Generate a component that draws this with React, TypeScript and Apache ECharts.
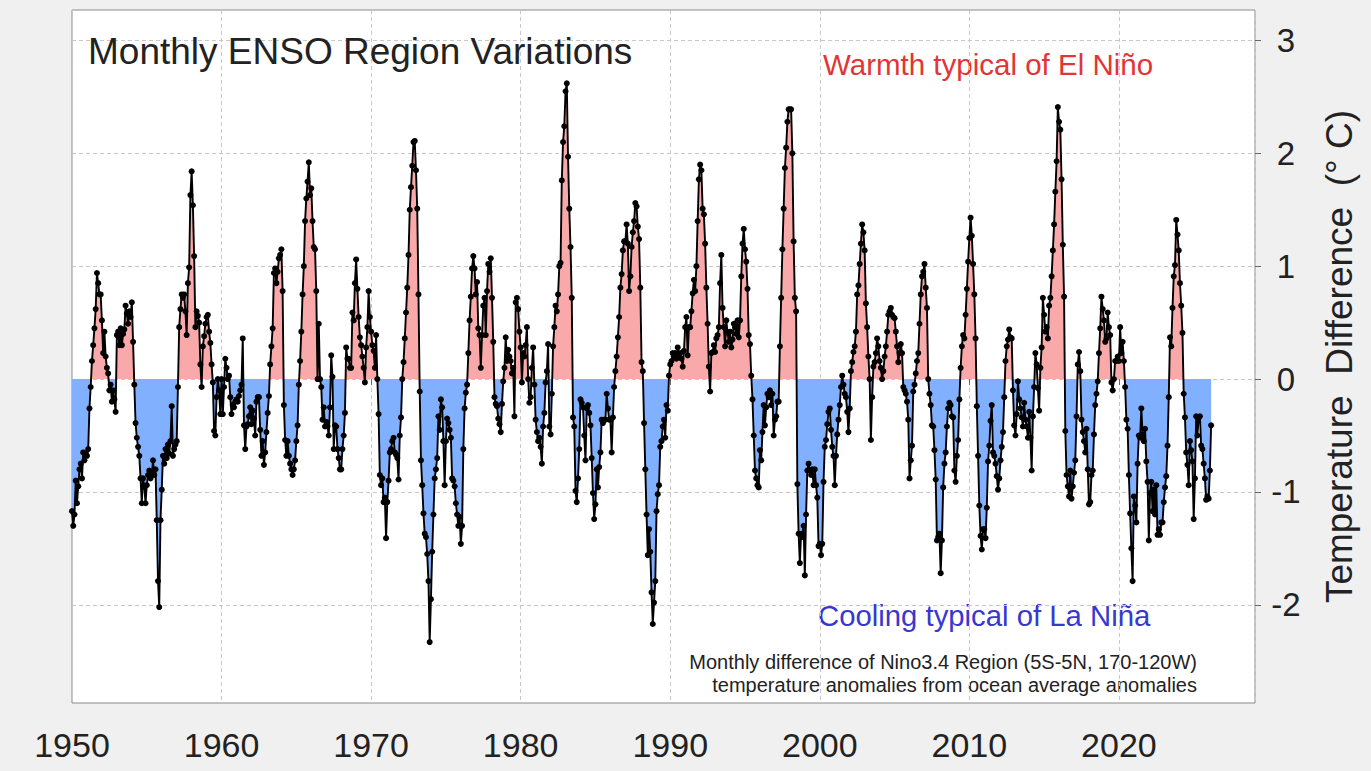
import React, { useEffect, useRef } from "react";
import * as echarts from "echarts";

const START_YEAR = 1950;

const enso1950s = [
  -1.17, -1.30, -1.20, -0.90, -1.10, -0.95, -0.80, -0.75, -0.88, -0.65, -0.72, -0.66,
  -0.68, -0.62, -0.26, -0.07, 0.16, 0.30, 0.45, 0.62, 0.94, 0.85, 0.75, 0.75,
  0.52, 0.23, 0.42, 0.20, 0.10, 0.05, -0.10, -0.05, -0.20, -0.10, -0.18, -0.29,
  0.39, 0.42, 0.30, 0.45, 0.30, 0.40, 0.44, 0.65, 0.58, 0.49, 0.60, 0.55,
  0.68, 0.33, -0.05, -0.39, -0.52, -0.60, -0.68, -0.88, -1.10, -0.88, -0.95, -1.10,
  -0.94, -0.85, -0.81, -0.88, -0.85, -0.72, -0.85, -0.80, -1.25, -1.79, -2.02, -1.25,
  -0.98, -0.68, -0.75, -0.62, -0.70, -0.58, -0.66, -0.55, -0.24, -0.68, -0.62, -0.58,
  -0.55, -0.07, 0.46, 0.62, 0.75, 0.72, 0.75, 0.60, 0.39, 0.85, 0.99, 1.63,
  1.84, 1.54, 1.09, 0.46, 0.60, 0.56, 0.50, 0.13, -0.07, 0.29, 0.38, 0.49,
  0.55, 0.57, 0.42, 0.32, 0.13, -0.03, -0.46, -0.50, -0.16, 0.00, -0.10, -0.31,
];

const enso1960s = [
  0.00, -0.31, -0.07, 0.18, 0.10, 0.00, 0.03, -0.16, -0.31, -0.23, -0.25, -0.20,
  -0.18, -0.20, -0.15, -0.10, -0.05, 0.36, -0.41, -0.62, -0.42, -0.40, -0.33, -0.25,
  -0.40, -0.28, -0.35, -0.50, -0.20, -0.16, -0.16, -0.45, -0.68, -0.55, -0.76, -0.65,
  -0.47, -0.30, -0.15, 0.13, 0.29, 0.45, 0.94, 0.98, 0.85, 0.95, 1.07, 1.10,
  1.15, 0.78, -0.23, -0.54, -0.68, -0.55, -0.68, -0.75, -0.80, -0.85, -0.80, -0.72,
  -0.55, -0.41, -0.05, 0.16, 0.42, 0.75, 1.00, 1.40, 1.60, 1.75, 1.92, 1.63,
  1.69, 1.40, 1.17, 1.15, 0.78, 0.00, 0.49, 0.00, -0.07, -0.36, -0.25, -0.42,
  -0.38, -0.42, -0.50, -0.25, 0.21, 0.02, -0.62, -0.41, -0.42, -0.62, -0.70, -0.80,
  -0.80, -0.62, -0.50, -0.30, 0.28, 0.18, 0.18, 0.10, 0.10, 0.59, 0.52, 0.85,
  1.06, 0.80, 0.55, 0.37, 0.30, 0.20, 0.10, -0.03, 0.28, 0.46, 0.78, 0.55,
];

const enso1970s = [
  0.42, 0.30, 0.25, 0.10, 0.39, 0.00, -0.31, -0.85, -0.94, -0.88, -1.09, -1.05,
  -1.41, -1.09, -0.90, -0.65, -0.62, -0.55, -0.52, -0.65, -0.67, -0.70, -0.89, -0.50,
  -0.34, 0.00, 0.15, 0.36, 0.59, 0.81, 1.10, 1.50, 1.70, 1.89, 2.10, 2.11,
  1.85, 1.51, 0.75, -0.11, -0.72, -0.94, -1.19, -1.37, -1.40, -1.55, -1.79, -2.33,
  -1.95, -1.53, -1.20, -0.88, -0.80, -0.70, -0.33, -0.45, -0.18, -0.25, -0.55, -0.94,
  -0.55, -0.35, -0.39, -0.45, -0.52, -0.88, -0.90, -0.95, -1.10, -1.20, -1.30, -1.22,
  -1.46, -1.30, -0.62, -0.26, -0.12, -0.05, 0.23, 0.52, 0.73, 0.98, 1.09, 0.98,
  0.75, 0.86, 0.45, 0.39, 0.10, 0.39, 0.65, 0.72, 0.39, 0.78, 1.02, 0.95,
  1.07, 0.72, 0.33, -0.16, -0.22, -0.24, -0.35, -0.40, -0.47, -0.22, -0.02, 0.10,
  0.37, 0.16, 0.26, 0.20, 0.16, 0.05, 0.10, -0.33, 0.68, 0.72, 0.62, 0.42,
];

const enso1980s = [
  0.28, -0.03, 0.23, 0.20, 0.30, 0.46, 0.00, -0.21, -0.16, 0.10, 0.28, -0.05,
  -0.36, -0.47, -0.55, -0.52, -0.60, -0.75, -0.42, -0.30, -0.03, 0.07, 0.31, -0.42,
  -0.49, -0.13, 0.29, 0.46, 0.65, 0.60, 0.75, 1.00, 1.03, 1.76, 2.10, 2.24,
  2.55, 2.62, 1.97, 1.51, 1.17, 0.72, -0.34, -0.42, -0.99, -1.09, -0.88, -0.62,
  -0.18, -0.21, -0.25, -0.50, -0.72, -0.26, -0.23, -0.30, -0.41, -0.70, -1.01, -1.24,
  -1.11, -0.80, -0.96, -0.78, -0.65, -0.36, -0.39, -0.36, -0.36, -0.13, -0.26, -0.36,
  -0.36, -0.65, -0.34, -0.07, 0.07, 0.20, 0.37, 0.55, 0.81, 0.93, 1.14, 1.22,
  1.22, 1.37, 1.20, 0.78, 0.91, 1.17, 1.30, 1.40, 1.56, 1.53, 1.35, 1.24,
  0.81, 0.15, 0.07, -0.39, -0.80, -1.20, -1.56, -1.33, -1.53, -1.89, -2.17, -1.98,
  -1.79, -1.17, -1.02, -0.94, -0.60, -0.55, -0.42, -0.36, -0.52, -0.23, -0.28, 0.03,
];

const enso1990s = [
  0.13, 0.16, 0.23, 0.20, 0.23, 0.18, 0.28, 0.20, 0.23, 0.18, 0.11, 0.25,
  0.46, 0.55, 0.21, 0.46, 0.46, 0.60, 0.76, 0.88, 0.78, 1.00, 1.40, 1.77,
  1.90, 1.85, 1.51, 1.46, 1.20, 0.81, 0.49, 0.11, -0.11, 0.23, 0.24, 0.30,
  0.24, 0.36, 0.39, 0.46, 0.85, 1.10, 0.63, 0.46, 0.29, 0.52, 0.41, 0.33,
  0.42, 0.28, 0.35, 0.49, 0.46, 0.40, 0.52, 0.37, 0.52, 0.91, 1.20, 1.33,
  1.15, 1.04, 0.80, 0.39, 0.31, 0.03, -0.18, -0.50, -0.81, -0.88, -0.94, -0.96,
  -0.63, -0.72, -0.47, -0.23, -0.41, -0.25, -0.13, -0.16, -0.10, -0.23, -0.13, -0.50,
  -0.36, -0.33, -0.20, -0.20, 0.29, 0.72, 1.15, 1.51, 1.87, 2.05, 2.28, 2.39,
  2.39, 2.39, 2.00, 1.22, 0.72, 0.60, -0.93, -1.37, -1.63, -1.37, -1.40, -1.30,
  -1.74, -1.20, -0.81, -0.75, -0.81, -0.85, -0.80, -0.94, -0.80, -0.94, -1.05, -1.48,
];

const enso2000s = [
  -1.46, -1.56, -1.46, -0.91, -0.60, -0.54, -0.40, -0.29, -0.26, -0.45, -0.60, -0.68,
  -0.94, -0.68, -0.49, -0.36, -0.23, -0.07, 0.03, -0.05, -0.13, -0.16, -0.29, -0.47,
  -0.26, 0.07, 0.15, 0.24, 0.29, 0.42, 0.75, 0.83, 1.02, 1.20, 1.37, 1.30,
  1.14, 0.67, 0.46, 0.20, 0.00, -0.54, -0.16, 0.11, 0.15, 0.23, 0.36, 0.29,
  0.16, 0.10, 0.00, 0.07, 0.20, 0.29, 0.42, 0.57, 0.60, 0.63, 0.57, 0.55,
  0.54, 0.42, 0.29, 0.15, 0.23, 0.31, 0.23, -0.07, -0.10, -0.13, -0.20, -0.36,
  -0.88, -0.72, -0.59, -0.11, -0.05, 0.05, 0.16, 0.23, 0.49, 0.75, 0.91, 0.95,
  1.02, 0.81, 0.63, 0.00, -0.13, -0.23, -0.41, -0.42, -0.63, -0.89, -1.43, -1.40,
  -1.37, -1.72, -1.43, -0.96, -0.75, -0.65, -0.42, -0.26, -0.21, -0.23, -0.33, -0.34,
  -0.81, -0.91, -0.68, -0.54, -0.18, 0.10, 0.29, 0.39, 0.36, 0.57, 0.80, 1.04,
];

const enso2010s = [
  1.25, 1.43, 1.27, 1.02, 0.75, 0.36, -0.24, -0.68, -1.12, -1.39, -1.51, -1.33,
  -1.33, -1.41, -1.14, -0.73, -0.59, -0.37, -0.23, -0.65, -0.68, -0.75, -0.86, -0.98,
  -0.88, -0.72, -0.60, -0.47, -0.16, 0.16, 0.29, 0.35, 0.44, 0.37, 0.36, -0.10,
  -0.41, -0.50, -0.31, -0.02, -0.18, -0.26, -0.34, -0.42, -0.21, -0.36, -0.42, -0.52,
  -0.29, -0.52, -0.81, -0.33, -0.07, 0.23, 0.13, -0.08, -0.28, 0.10, 0.28, 0.72,
  0.57, 0.42, 0.46, 0.36, 0.65, 0.72, 0.91, 1.14, 1.37, 1.66, 1.93, 2.41,
  2.28, 2.21, 1.77, 1.19, 0.73, -0.46, -0.85, -0.95, -1.04, -0.81, -1.06, -0.95,
  -0.83, -0.72, -0.33, 0.13, 0.24, 0.07, -0.36, -0.47, -0.55, -0.65, -0.44, -0.80,
  -1.11, -1.09, -0.85, -0.81, -0.49, -0.23, -0.13, -0.02, 0.23, 0.45, 0.73, 0.62,
  0.52, 0.33, 0.36, 0.59, 0.46, 0.39, -0.03, -0.10, 0.00, 0.16, 0.16, 0.20,
];

const enso2020s = [
  0.16, 0.46, 0.23, 0.33, 0.16, -0.07, -0.36, -0.44, -0.85, -1.19, -1.50, -1.79,
  -1.04, -1.12, -1.27, -0.75, -0.50, -0.52, -0.26, -0.49, -0.55, -0.44, -0.73, -0.91,
  -1.43, -1.01, -0.91, -1.17, -0.98, -1.20, -0.94, -1.38, -1.33, -1.38, -1.27, -1.27,
  -1.09, -0.96, -0.86, -0.59, -0.16, 0.37, 0.29, 0.63, 0.91, 1.01, 1.41, 1.28,
  1.14, 0.85, 0.65, 0.41, -0.13, -0.34, -0.65, -0.76, -0.94, -0.55, -0.63, -0.73,
  -1.24, -0.88, -0.33, -0.50, -0.34, -0.33, -0.59, -0.62, -0.75, -0.88, -1.07, -1.04,
  -1.06, -0.81, -0.41,
];

const yTicks = [-2, -1, 0, 1, 2, 3];

const TITLE = "Monthly ENSO Region Variations";
const WARM_LABEL = "Warmth typical of El Niño";
const COOL_LABEL = "Cooling typical of La Niña";
const NOTE_1 = "Monthly difference of Nino3.4 Region (5S-5N, 170-120W)";
const NOTE_2 = "temperature anomalies from ocean average anomalies";
const Y_NAME = "Temperature  Difference  (° C)";

const FONT = "'Liberation Sans', Arial, Helvetica, sans-serif";

export default function App() {
  const ref = useRef<HTMLDivElement>(null);

  useEffect(() => {
    if (!ref.current) return;
    const chart = echarts.init(ref.current, undefined, { renderer: "svg" });
    const values = [
      ...enso1950s, ...enso1960s, ...enso1970s, ...enso1980s,
      ...enso1990s, ...enso2000s, ...enso2010s, ...enso2020s,
    ];
    const years = values.map((_, i) => START_YEAR + i / 12);
    const pts = values.map((v, i) => [years[i], v]);
    const posPts = values.map((v, i) => [years[i], Math.max(v, 0)]);
    const negPts = values.map((v, i) => [years[i], Math.min(v, 0)]);

    chart.setOption({
      animation: false,
      backgroundColor: "#f0f0f0",
      textStyle: { fontFamily: FONT },
      grid: {
        left: 72, right: 116, top: 10, bottom: 68,
        show: true, backgroundColor: "#ffffff",
        borderColor: "#8a8a8a", borderWidth: 1,
      },
      title: {
        text: TITLE, left: 88, top: 33, padding: 0,
        textStyle: { fontSize: 37, fontWeight: "normal", color: "#222", fontFamily: FONT },
      },
      xAxis: {
        type: "value", min: 1950, max: 2029.1, interval: 10,
        axisLine: { show: false },
        axisTick: { show: true, length: 6, lineStyle: { color: "#666" } },
        axisLabel: {
          fontSize: 34, color: "#222", margin: 25, fontFamily: FONT,
          showMaxLabel: false,
          formatter: (v: number) => String(v),
        },
        splitLine: { show: true, lineStyle: { color: "#c8c8c8", type: [4, 3], width: 1 } },
      },
      yAxis: {
        type: "value", position: "right", min: -2.87, max: 3.27,
        name: Y_NAME, nameLocation: "middle", nameRotate: 90, nameGap: 66,
        nameTextStyle: { fontSize: 37, color: "#222", fontFamily: FONT },
        axisLine: { show: false },
        axisTick: { show: true, length: 6, customValues: yTicks, lineStyle: { color: "#666" } },
        axisLabel: {
          fontSize: 33, color: "#222", margin: 31, align: "center", customValues: yTicks, fontFamily: FONT,
          formatter: (v: number) => String(v),
        },
        splitLine: { show: true, lineStyle: { color: "#c8c8c8", type: [4, 3], width: 1 } },
      },
      series: [
        {
          type: "line", data: posPts, symbol: "none", z: 1,
          lineStyle: { width: 0, opacity: 0 },
          areaStyle: { color: "#f9a9a9", opacity: 1 },
          silent: true,
        },
        {
          type: "line", data: negPts, symbol: "none", z: 1,
          lineStyle: { width: 0, opacity: 0 },
          areaStyle: { color: "#80b0ff", opacity: 1 },
          silent: true,
        },
        {
          type: "line", data: pts, symbol: "circle", symbolSize: 6, z: 3,
          showAllSymbol: true,
          itemStyle: { color: "#000" },
          lineStyle: { color: "#000", width: 1.9 },
          silent: true,
        },
      ],
      graphic: [
        {
          type: "text", x: 823, y: 64,
          style: { text: WARM_LABEL, fontSize: 29.5, fill: "#e23535", fontFamily: FONT, verticalAlign: "middle" },
        },
        {
          type: "text", x: 818, y: 615,
          style: { text: COOL_LABEL, fontSize: 29.3, fill: "#3838d0", fontFamily: FONT, verticalAlign: "middle" },
        },
        {
          type: "text", x: 1197, y: 662,
          style: { text: NOTE_1, fontSize: 20, fill: "#222", fontFamily: FONT, align: "right", verticalAlign: "middle" },
        },
        {
          type: "text", x: 1197, y: 685,
          style: { text: NOTE_2, fontSize: 20, fill: "#222", fontFamily: FONT, align: "right", verticalAlign: "middle" },
        },
      ],
    });

    return () => chart.dispose();
  }, []);

  return (
    <div
      ref={ref}
      style={{ position: "absolute", left: 0, top: 0, width: 1371, height: 771 }}
    />
  );
}
